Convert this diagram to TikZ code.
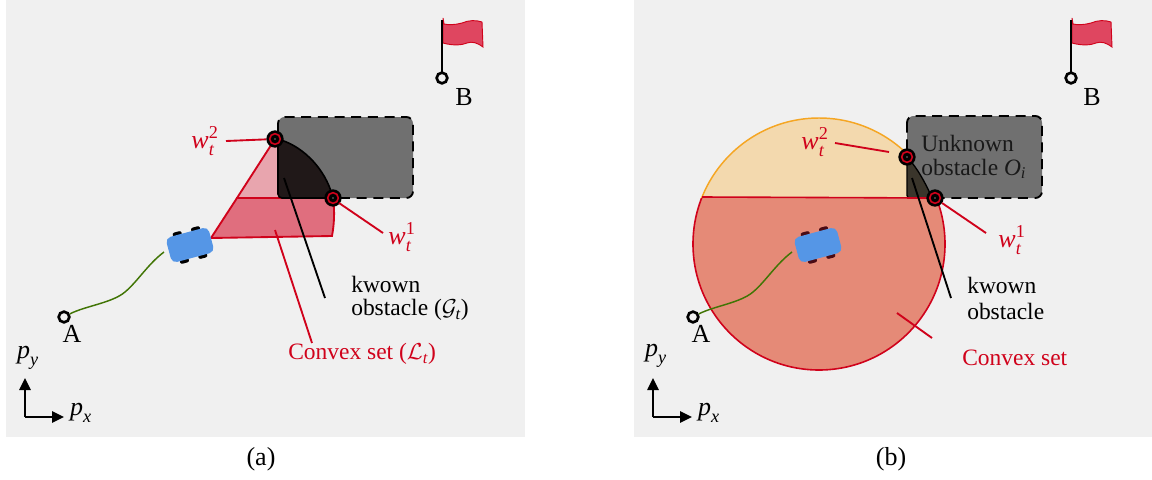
\documentclass[tikz,border=0pt]{standalone}
\usepackage{amsmath}
\usepackage{fontspec}
\setmainfont{Liberation Serif}
\usetikzlibrary{arrows.meta}
\definecolor{panelbg}{HTML}{F0F0F0}
\definecolor{obst}{HTML}{707070}
\definecolor{lred}{HTML}{D0021B}
\definecolor{carblue}{HTML}{5596E6}
\definecolor{pathgreen}{HTML}{417505}
\definecolor{flagred}{HTML}{DF4660}
\definecolor{pinka}{HTML}{E8A5AE}
\definecolor{rosea}{HTML}{E06E7E}
\definecolor{capb}{HTML}{F3D9AE}
\definecolor{circb}{HTML}{E58A77}
\definecolor{darka}{HTML}{201818}
\definecolor{darkb}{HTML}{3A352B}
\definecolor{capedge}{HTML}{F5A623}
\definecolor{wheelb}{HTML}{4A0A14}
\tikzset{
  x=0.75pt,y=-0.75pt,
  panel/.style={fill=panelbg,draw=none},
  obstacle/.style={fill=obst,draw=black,line width=1.4pt,dash pattern=on 7.5pt off 5pt,rounded corners=5pt},
  leader/.style={draw=lred,line width=1.4pt},
  blackleader/.style={draw=black,line width=1.4pt},
  redtext/.style={text=lred,font=\fontsize{17.6pt}{20pt}\selectfont,inner sep=0pt},
  blacktext/.style={text=black,font=\fontsize{17.6pt}{20pt}\selectfont,inner sep=0pt},
  bigtext/.style={text=black,font=\fontsize{19.5pt}{22pt}\selectfont,inner sep=0pt},
  bigred/.style={text=lred,font=\fontsize{19.5pt}{22pt}\selectfont,inner sep=0pt},
  trackline/.style={draw=pathgreen,line width=1.1pt},
  ring/.style={circle,draw=black,line width=2pt,fill=none,minimum size=8pt,inner sep=0pt},
  carbody/.style={fill=carblue,rounded corners=4pt},
  wheel/.style={line width=3.2pt,line cap=round},
  axis/.style={draw=black,line width=1.2pt,-{Triangle[length=9pt,width=8.5pt]}},
}
\newcommand{\waypoint}[2]{%
  \node[circle,fill=black,minimum size=13pt,inner sep=0pt] (#2) at #1 {};
  \node[circle,draw=lred,line width=1.2pt,minimum size=8pt,inner sep=0pt] at #1 {};
  \fill[black] #1 circle (1.4pt);
  \fill[white] #1 circle (.45pt);
}
\newcommand{\vehicle}[2]{%
  \begin{scope}[shift={#1},rotate=15]
    \draw[wheel,#2] (-12,-14)--(-7,-14) (7,-14)--(12,-14) (-12,14)--(-7,14) (7,14)--(12,14);
    \fill[carbody] (-22,-13) rectangle (22,13);
  \end{scope}
}
\newcommand{\goalflag}[1]{%
  \begin{scope}[shift={#1}]
    \fill[flagred,draw=lred,line width=.7pt] (1,-60) -- (1,-35) .. controls (12,-32) and (20,-33) .. (25,-35) .. controls (30,-37) and (36,-35) .. (41,-31)
      -- (40,-56) .. controls (34,-58) and (27,-58) .. (20,-55) .. controls (13,-53) and (6,-53) .. (2,-54) -- cycle;
    \draw[black,line width=1.2pt] (0,-58) -- (0,-5);
  \end{scope}
}
\begin{document}
\begin{tikzpicture}
\useasboundingbox (0,0) rectangle (1152,479);
% ---------- panel a
\fill[panel] (6,0) rectangle (525,437);
\draw[obstacle] (278,117) rectangle (413,198);
\fill[pinka] (275,139) -- (238,198) -- (278,198) -- (278,139) -- cycle;
\fill[rosea,draw=lred,line width=1.4pt] (211,238) -- (237,198) -- (333,198) .. controls (335,212) and (334,225) .. (332,236) -- cycle;
\draw[lred,line width=1.4pt] (275,139) -- (237,198);
\draw[fill=darka,draw=black,line width=1.2pt,rounded corners=3pt] (278,139) .. controls (305,148) and (325,170) .. (333,198) -- (278,198) -- cycle;
\coordinate (a1) at (284,178); \coordinate (a2) at (325,298);
\draw[blackleader] (a1) -- (a2);
\coordinate (a3) at (275,230); \coordinate (a4) at (312,343);
\draw[leader] (a3) -- (a4);
\waypoint{(275,139)}{wa2}
\waypoint{(333,198)}{wa1}
\node[bigred] (la2) at (205,141) {$\textit{w}_{\textit{t}}^{\textrm{2}}$};
\node[bigred] (la1) at (402,237) {$\textit{w}_{\textit{t}}^{\textrm{1}}$};
\coordinate (a5) at (226,141);
\draw[leader] (a5) -- (wa2);
\coordinate (a6) at (339,203); \coordinate (a7) at (383,233);
\draw[leader] (a6) -- (a7);
\node[blacktext,anchor=west] (ka) at (351,284) {kwown};
\node[blacktext,anchor=west] (kb) at (351,310) {obstacle ($\mathcal{G}_{\textit{t}}$)};
\node[redtext,anchor=west] (ca) at (288,354) {Convex set ($\mathcal{L}_{\textit{t}}$)};
\vehicle{(190,245)}{black}
\node[ring] (Aa) at (64,317) {};
\node[ring] (Ba) at (442,78) {};
\draw[trackline] (Aa) .. controls (85,306) and (112,303) .. (125,292) .. controls (138,281) and (148,264) .. (164,252);
\goalflag{(442,78)}
\node[bigtext] (tA) at (72,334) {A};
\node[bigtext] (tB) at (464,97) {B};
\node[bigtext] (pya) at (28,358) {$\textit{p}_{\textit{y}}$};
\node[bigtext] (pxa) at (81,413) {$\textit{p}_{\textit{x}}$};
\coordinate (oa) at (25,417);
\coordinate (oay) at (25,378);
\coordinate (oax) at (64,417);
\draw[axis] (oa) -- (oay);
\draw[axis] (oa) -- (oax);
\node[bigtext] (capa) at (261,459) {(a)};
% ---------- panel b
\fill[panel] (634,0) rectangle (1152,437);
\draw[obstacle] (907,116) rectangle (1042,198);
\begin{scope}
  \clip (634,0) rectangle (907,198);
  \fill[capb] (819,244) circle[radius=94.5pt];
  \draw[capedge,line width=1.1pt] (819,244) circle[radius=94.5pt];
\end{scope}
\begin{scope}
  \clip (634,198) rectangle (1152,437);
  \fill[circb] (819,244) circle[radius=94.5pt];
  \draw[lred,line width=1.2pt] (819,244) circle[radius=94.5pt];
\end{scope}
\draw[lred,line width=1.2pt] (702,197) -- (935,198);
\draw[fill=darkb,draw=black,line width=1pt,rounded corners=2pt] (907,157) .. controls (917,168) and (925,182) .. (932,198) -- (907,198) -- cycle;
\draw[lred,line width=1.2pt] (907,198) -- (935,198);
\coordinate (b1) at (912,178); \coordinate (b2) at (951,298);
\draw[blackleader] (b1) -- (b2);
\coordinate (b3) at (897,313); \coordinate (b4) at (932,338);
\draw[leader] (b3) -- (b4);
\waypoint{(907,157)}{wb2}
\waypoint{(935,198)}{wb1}
\node[bigred] (lb2) at (815,142) {$\textit{w}_{\textit{t}}^{\textrm{2}}$};
\node[bigred] (lb1) at (1012,240) {$\textit{w}_{\textit{t}}^{\textrm{1}}$};
\coordinate (b5) at (835,143); \coordinate (b7) at (889,152);
\draw[leader] (b5) -- (b7);
\coordinate (b6) at (942,203); \coordinate (b8) at (986,233);
\draw[leader] (b6) -- (b8);
\node[blacktext,text=black!90,anchor=west] (ub) at (921,143) {Unknown};
\node[blacktext,text=black!90,anchor=west] (ub2) at (921,169) {obstacle $\textit{O}_{\textit{i}}$};
\node[blacktext,anchor=west] (kc) at (967,285) {kwown};
\node[blacktext,anchor=west] (kd) at (967,311) {obstacle};
\node[redtext,anchor=west] (cb) at (962,358) {Convex set};
\vehicle{(818,245)}{wheelb}
\node[ring] (Ab) at (693,317) {};
\node[ring] (Bb) at (1071,78) {};
\draw[trackline] (Ab) .. controls (714,306) and (740,303) .. (753,292) .. controls (766,281) and (776,264) .. (792,252);
\goalflag{(1071,78)}
\node[bigtext] (tAb) at (701,334) {A};
\node[bigtext] (tBb) at (1092,97) {B};
\node[bigtext] (pyb) at (656,356) {$\textit{p}_{\textit{y}}$};
\node[bigtext] (pxb) at (709,413) {$\textit{p}_{\textit{x}}$};
\coordinate (ob) at (653,417);
\coordinate (oby) at (653,378);
\coordinate (obx) at (692,417);
\draw[axis] (ob) -- (oby);
\draw[axis] (ob) -- (obx);
\node[bigtext] (capb) at (891,459) {(b)};
\end{tikzpicture}
\end{document}
